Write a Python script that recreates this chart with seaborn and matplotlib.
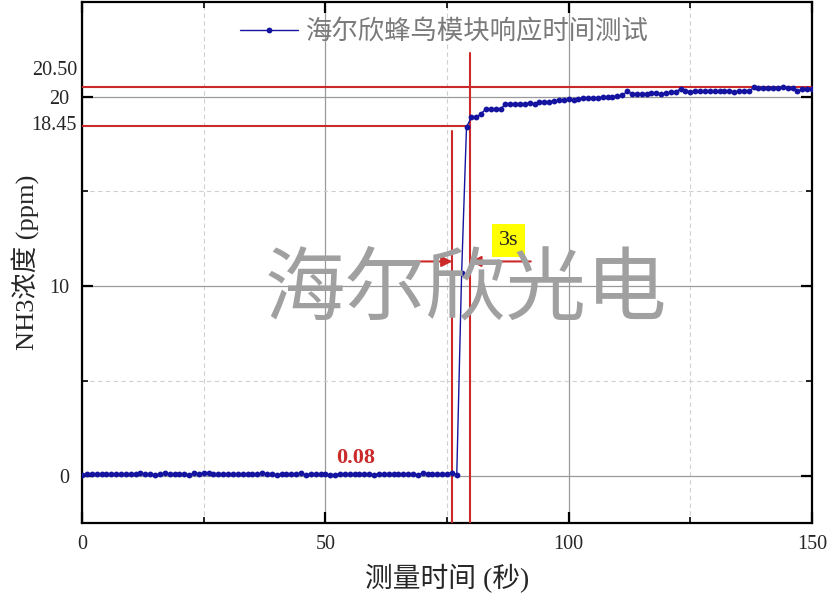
import numpy as np
import pandas as pd
import matplotlib
matplotlib.use("Agg")
import matplotlib.pyplot as plt
import seaborn as sns

# ---- data ----
low_part = [0.05, 0.1, 0.08, 0.06, 0.08, 0.07, 0.08, 0.09, 0.1, 0.08,
            0.09, 0.1, 0.12, 0.08, 0.1, 0.04, 0.08, 0.12, 0.06, 0.1,
            0.09, 0.08, 0.05, 0.12, 0.1, 0.13, 0.12, 0.1, 0.06, 0.1,
            0.09, 0.08, 0.1, 0.1, 0.07, 0.06, 0.09, 0.12, 0.1, 0.08,
            0.05, 0.09, 0.1, 0.1, 0.07, 0.12, 0.05, 0.1, 0.08, 0.06,
            0.1, 0.03, 0.05, 0.1, 0.08, 0.09, 0.08, 0.08, 0.07, 0.1,
            0.05, 0.1, 0.1, 0.1, 0.1, 0.08, 0.1, 0.09, 0.07, 0.05,
            0.13, 0.1, 0.09, 0.08, 0.1, 0.1, 0.15, 0.05]
step_part = [10.7]
high_part = [18.4, 18.9, 18.9, 19.1, 19.35, 19.35, 19.35, 19.35, 19.6, 19.62,
             19.63, 19.63, 19.62, 19.66, 19.6, 19.7, 19.72, 19.74, 19.76, 19.8,
             19.82, 19.86, 19.84, 19.88, 19.9, 19.92, 19.93, 19.95, 19.97, 19.98,
             20.0, 20.02, 20.06, 20.27, 20.15, 20.14, 20.14, 20.15, 20.17, 20.2,
             20.12, 20.2, 20.22, 20.26, 20.4, 20.32, 20.25, 20.28, 20.28, 20.29,
             20.29, 20.28, 20.29, 20.28, 20.29, 20.26, 20.28, 20.27, 20.27, 20.48,
             20.44, 20.45, 20.46, 20.47, 20.47, 20.48, 20.46, 20.45, 20.28, 20.38,
             20.4, 20.42]
conc = low_part + step_part + high_part
time_s = list(range(len(conc)))

xticks = [0, 50, 100, 150]
yticks = [0, 10, 20]
xminor = [25, 75, 125]
yminor = [5, 15]

t_start, t_end = 76.1, 79.8
level_90, level_full = 18.45, 20.5
baseline_label = "0.08"
resp_label = "3s"

df = pd.DataFrame({"t": time_s, "c": conc})

# ---- style ----
sns.set_style("ticks")
plt.rcParams["font.family"] = ["Liberation Serif", "Noto Sans CJK SC", "DejaVu Sans"]
cjk = ["Liberation Serif", "Noto Sans CJK SC", "DejaVu Sans"]

fig = plt.figure(figsize=(8.32, 6.06), dpi=100)
ax = fig.add_axes([0.0986, 0.137, 0.8774, 0.860])

red = "#cc2a2a"
blue = "#1414a0"

sns.lineplot(data=df, x="t", y="c", ax=ax, color=blue, linewidth=1.0,
             marker="o", markersize=4.2, markeredgewidth=0,
             label="海尔欣蜂鸟模块响应时间测试", zorder=5)

ax.set_xlim(0, 150)
ax.set_ylim(-2.5, 25)
ax.set_xticks(xticks)
ax.set_xticklabels([str(v) for v in xticks])
ax.set_yticks(yticks)
ax.set_yticklabels([str(v) for v in yticks])
ax.set_xticks(xminor, minor=True)
ax.set_yticks(yminor, minor=True)

ax.grid(True, which="major", color="#9a9a9a", linewidth=0.9, linestyle="-")
ax.grid(True, which="minor", color="#d0d0d0", linewidth=0.8, linestyle=(0, (4, 3)))
ax.set_axisbelow(True)

for s in ax.spines.values():
    s.set_visible(True)
    s.set_linewidth(1.6)
    s.set_color("black")

ax.tick_params(which="both", direction="in", top=True, right=True, color="black")
ax.tick_params(which="major", length=8, width=1.6, labelsize=14.5, pad=9)
ax.tick_params(which="minor", length=4, width=1.2)

# extra y labels at the reference levels
ax.text(-0.007, level_90, "18.45", transform=ax.get_yaxis_transform(),
        ha="right", va="center", fontsize=14.5)
ax.text(-0.007, 21.4, "20.50", transform=ax.get_yaxis_transform(),
        ha="right", va="center", fontsize=14.5)

# red reference lines
ax.axhline(level_full, color=red, linewidth=1.5, zorder=4)
ax.plot([0, t_end], [level_90, level_90], color=red, linewidth=1.5, zorder=4)
ax.plot([t_start, t_start], [-2.5, 18.2], color=red, linewidth=1.5, zorder=4)
ax.plot([t_end, t_end], [-2.5, 22.3], color=red, linewidth=1.5, zorder=4)

# arrows
ax.annotate("", xy=(t_start, 11.3), xytext=(64.4, 11.3),
            arrowprops=dict(arrowstyle="-|>", color=red, lw=1.5,
                            mutation_scale=16, shrinkA=0, shrinkB=0), zorder=6)
ax.annotate("", xy=(t_end, 11.3), xytext=(92.2, 11.3),
            arrowprops=dict(arrowstyle="-|>", color=red, lw=1.5,
                            mutation_scale=16, shrinkA=0, shrinkB=0), zorder=6)

ax.text(87.7, 12.4, resp_label, ha="center", va="center", fontsize=16,
        bbox=dict(boxstyle="square,pad=0.3", facecolor="#ffff00", edgecolor="none"),
        zorder=7)
ax.text(56.2, 0.95, baseline_label, ha="center", va="center", fontsize=16,
        fontweight="bold", color=red, zorder=7)

# watermark
ax.text(78.8, 9.8, "海尔欣光电", ha="center", va="center", fontsize=58,
        fontweight="light", color="#a0a0a0",
        family=["Noto Sans CJK SC", "DejaVu Sans"], zorder=8)

ax.set_xlabel("测量时间 (秒)", fontsize=20, labelpad=7, family=cjk)
ax.set_ylabel("NH3浓度 (ppm)", fontsize=19, labelpad=7, family=cjk)

leg = ax.legend(loc="upper center", bbox_to_anchor=(0.497, 1.015), frameon=False,
                handlelength=2.2, handletextpad=0.3,
                prop={"family": ["Noto Sans CJK SC", "DejaVu Sans"], "size": 19})
for t in leg.get_texts():
    t.set_color("#7a7a7a")

fig.savefig("out.png", dpi=100)
